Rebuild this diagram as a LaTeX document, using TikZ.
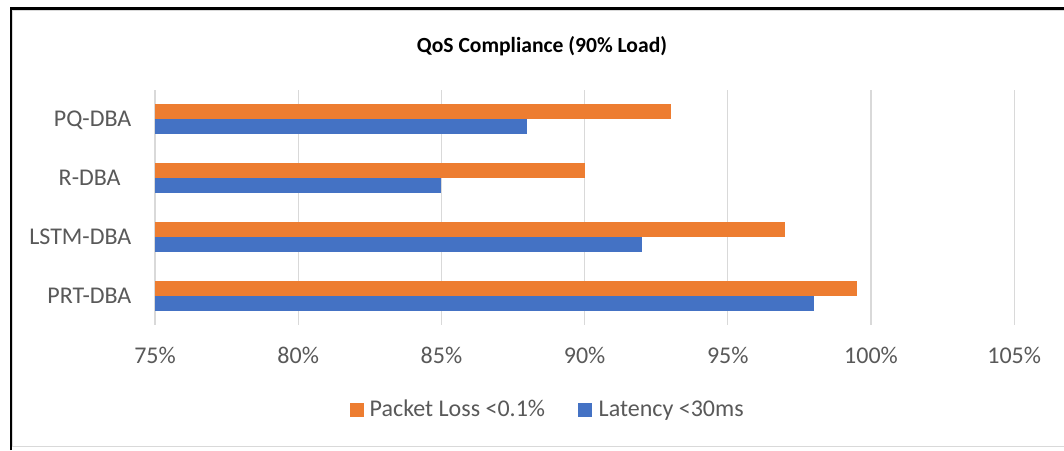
\documentclass[tikz,border=0pt]{standalone}
\usepackage{fontspec}
\setmainfont{Carlito}
\definecolor{lossorange}{HTML}{ED7D31}
\definecolor{latblue}{HTML}{4472C4}
\definecolor{txtgray}{HTML}{595959}
\definecolor{gridgray}{HTML}{D9D9D9}
\tikzset{
	lbl/.style={inner sep=0pt, text=txtgray, font=\fontsize{12}{14}\selectfont},
	gridline/.style={gridgray, line width=0.65pt},
}
\begin{document}
\begin{tikzpicture}[x=0.5pt,y=-0.5pt,line join=round]
				\useasboundingbox (0,0) rectangle (1064,450);
				\fill[white] (0,0) rectangle (1064,450);
				% chart area and frame
				\draw[gridgray,line width=0.6pt] (12.6,10.6) rectangle (1080,446.8);
				\draw[line width=1.15pt] (11.2,450) -- (11.2,6.7);
				\draw[line width=1.65pt] (10,8.3) -- (1064,8.3);
				\node[inner sep=0pt, font=\bfseries\fontsize{10.8}{13}\selectfont] (title) at (542,46.5) {QoS Compliance (90\% Load)};
				% gridlines and ticks
				\foreach \k [evaluate=\k as \pct using int(75+5*\k)] in {0,...,6}{
					\draw[gridline] ({155+143.2*\k},90) -- ({155+143.2*\k},325);
					\node[lbl,anchor=base] (tick\k) at ({155+143.2*\k},363.3) {\pct\%};
				}
				% bars
				\foreach \name/\xr/\po/\pl [count=\i from 0] in {PQ-DBA/131.7/93/88, R-DBA/121/90/85, LSTM-DBA/131.7/97/92, PRT-DBA/131.7/99.5/98}{
					\pgfmathsetmacro\c{119.4+58.75*\i}
					\fill[lossorange] (155,{\c-15}) rectangle ({155+28.64*(\po-75)},\c);
					\fill[latblue] (155,\c) rectangle ({155+28.64*(\pl-75)},{\c+15});
					\node[lbl,anchor=base east] (cat\i) at (\xr,{\c+7.4}) {\name};
				}
				% legend
				\fill[lossorange] (350,403.3) rectangle (364,417.3);
				\node[lbl,anchor=base west] (legloss) at (369.3,416.8) {Packet Loss <0.1\%};
				\fill[latblue] (578.3,403.3) rectangle (591.7,417.3);
				\node[lbl,anchor=base west] (leglat) at (598.3,416.8) {Latency <30ms};
			\end{tikzpicture}
\end{document}
